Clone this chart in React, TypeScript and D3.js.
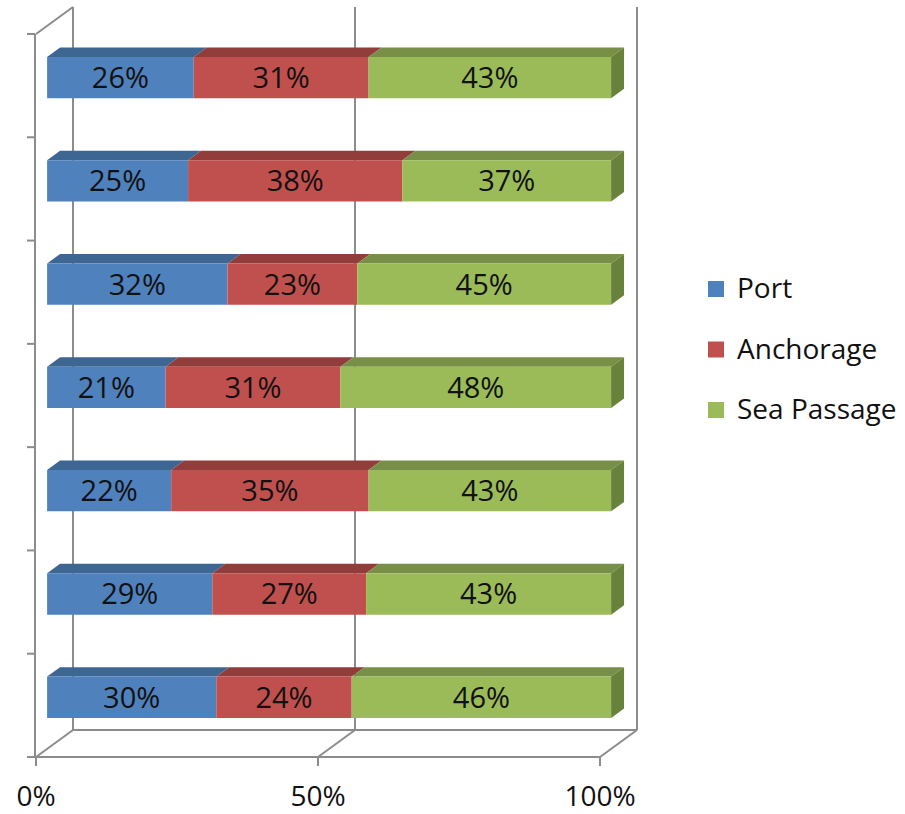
import React from "react";
import * as d3 from "d3";

// Rows listed top to bottom; values are percentage shares per row
const rows = ["1", "2", "3", "4", "5", "6", "7"];
const portShare = [26, 25, 32, 21, 22, 29, 30];
const anchorageShare = [31, 38, 23, 31, 35, 27, 24];
const seaPassageShare = [43, 37, 45, 48, 43, 43, 46];

const seriesNames = ["Port", "Anchorage", "Sea Passage"];
const axisTicks = [0, 50, 100];

const frontColors = ["#4F81BD", "#C0504D", "#9BBB59"];
const topColors = ["#3E6693", "#913D3B", "#778F47"];
const sideColors = ["#3A5E88", "#873836", "#69823B"];

const W = 905;
const H = 814;
const DX = 37; // depth offset of the box
const DY = -27;
const BAR_F0 = 0.3; // bar front depth fraction
const BAR_F1 = 0.65; // bar back depth fraction
const FONT = "'Open Sans', sans-serif";

export default function App() {
  const x = d3.scaleLinear().domain([0, 100]).range([36, 600]);
  const y = d3
    .scaleBand<string>()
    .domain(rows)
    .range([34, 757])
    .paddingInner(0.6)
    .paddingOuter(0.3);
  const step = y.step();
  const yTop = 34;
  const yBottom = 757;

  const P = (v: number, yy: number, f: number): [number, number] => [
    x(v) + f * DX,
    yy + f * DY,
  ];
  const poly = (pts: [number, number][]) => pts.map((p) => p.join(",")).join(" ");

  const grid = "#8C8C8C";

  // 100% stacked: each row is scaled to its own total
  const table = rows.map((r, i) => {
    const vals = [portShare[i], anchorageShare[i], seaPassageShare[i]];
    const total = d3.sum(vals);
    const scaled = vals.map((v) => (v / total) * 100);
    const stack = d3.cumsum(scaled);
    return { r, vals, scaled, stack };
  });

  return (
    <svg width={W} height={H} style={{ display: "block", position: "absolute", left: 0, top: 0 }}>
      <rect width={W} height={H} fill="#fff" />
      {/* back wall and floor */}
      <g stroke={grid} strokeWidth={2} fill="none">
        {axisTicks.map((t) => (
          <line key={"bw" + t} x1={x(t) + DX} x2={x(t) + DX} y1={yTop + DY} y2={yBottom + DY} />
        ))}
        <line x1={x(0) + DX} x2={x(100) + DX} y1={yBottom + DY} y2={yBottom + DY} />
        {axisTicks.map((t) => (
          <line key={"fl" + t} x1={x(t)} y1={yBottom} x2={x(t) + DX} y2={yBottom + DY} />
        ))}
        <line x1={x(0)} y1={yTop} x2={x(0) + DX} y2={yTop + DY} />
        <line x1={x(0) - 1} x2={x(0) - 1} y1={yTop} y2={yBottom} />
        <line x1={x(0)} x2={x(100)} y1={yBottom} y2={yBottom} />
        {d3.range(rows.length + 1).map((k) => (
          <line key={"yt" + k} x1={x(0) - 9} x2={x(0) - 1} y1={yTop + k * step} y2={yTop + k * step} />
        ))}
        {axisTicks.map((t) => (
          <line key={"xt" + t} x1={x(t)} x2={x(t)} y1={yBottom} y2={yBottom + 9} />
        ))}
      </g>

      {/* bars */}
      {table.map(({ r, vals, scaled, stack }) => {
        const y0 = y(r)!;
        const y1 = y0 + y.bandwidth();
        return (
          <g key={r}>
            {scaled.map((v, s) => {
              const a = stack[s] - v;
              const b = stack[s];
              const front: [number, number][] = [
                P(a, y0, BAR_F0),
                P(b, y0, BAR_F0),
                P(b, y1, BAR_F0),
                P(a, y1, BAR_F0),
              ];
              const top: [number, number][] = [
                P(a, y0, BAR_F0),
                P(b, y0, BAR_F0),
                P(b, y0, BAR_F1),
                P(a, y0, BAR_F1),
              ];
              return (
                <g key={s}>
                  <polygon points={poly(top)} fill={topColors[s]} />
                  <polygon points={poly(front)} fill={frontColors[s]} />
                  {s === scaled.length - 1 && (
                    <polygon
                      points={poly([
                        P(b, y0, BAR_F0),
                        P(b, y0, BAR_F1),
                        P(b, y1, BAR_F1),
                        P(b, y1, BAR_F0),
                      ])}
                      fill={sideColors[s]}
                    />
                  )}
                </g>
              );
            })}
            {scaled.map((v, s) => {
              const [cx, cy] = P(stack[s] - v / 2, (y0 + y1) / 2, BAR_F0);
              return (
                <text
                  key={"l" + s}
                  x={cx}
                  y={cy}
                  dy="0.36em"
                  textAnchor="middle"
                  fontFamily={FONT}
                  fontSize={29}
                  fill="#111"
                >
                  {vals[s]}%
                </text>
              );
            })}
          </g>
        );
      })}

      {/* x-axis labels */}
      {axisTicks.map((t) => (
        <text
          key={"xl" + t}
          x={x(t)}
          y={806}
          textAnchor="middle"
          fontFamily={FONT}
          fontSize={28}
          fill="#111"
        >
          {t}%
        </text>
      ))}

      {/* legend */}
      {seriesNames.map((n, i) => {
        const base = 298 + i * 60.5;
        return (
          <g key={n}>
            <rect x={708} y={base - 17} width={16} height={16} fill={frontColors[i]} />
            <text x={737} y={base} fontFamily={FONT} fontSize={28} fill="#111">
              {n}
            </text>
          </g>
        );
      })}
    </svg>
  );
}
